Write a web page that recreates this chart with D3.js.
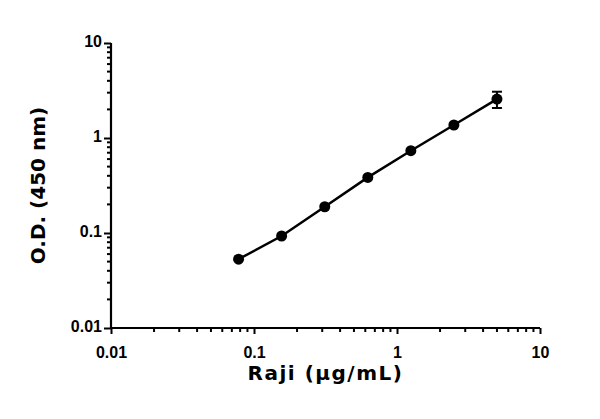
<!DOCTYPE html>
<html>
<head>
<meta charset="utf-8">
<script src="https://cdn.jsdelivr.net/npm/d3@7"></script>
<style>
  body { margin: 0; background: #fff; }
</style>
</head>
<body>
<svg id="chart" width="600" height="419"></svg>
<script>
// concentration of Raji (ug/mL) and measured O.D.
const conc = [0.078, 0.156, 0.3125, 0.625, 1.25, 2.5, 5];
const od = [0.053, 0.093, 0.189, 0.385, 0.735, 1.37, 2.57];
const odErr = [0, 0, 0, 0, 0, 0, 0.5];
const xTicks = [0.01, 0.1, 1, 10];
const yTicks = [0.01, 0.1, 1, 10];

let svg = d3.select("#chart");
let margin = {left: 111, top: 43, right: 60, bottom: 91};
let width = +svg.attr("width") - margin.left - margin.right;
let height = +svg.attr("height") - margin.top - margin.bottom;

let x = d3.scaleLog().domain([0.01, 10]).range([0, width]);
let y = d3.scaleLog().domain([0.01, 10]).range([height, 0]);

let g = svg.append("g").attr("transform", `translate(${margin.left}, ${margin.top})`);

// minor ticks 2..9 in every decade
let minor = [];
for (let d = 0.01; d < 10; d *= 10) {
    for (let k = 2; k <= 9; k++) minor.push(d * k);
}

let fmt = (v) => v >= 1 ? d3.format("d")(v) : String(+v.toPrecision(1));

let xAxis = g.append("g")
    .attr("transform", `translate(0, ${height})`)
    .call(d3.axisBottom(x).tickValues(xTicks).tickFormat(fmt).tickSize(6).tickPadding(13));
xAxis.append("g").selectAll("line")
    .data(minor)
    .enter()
    .append("line")
    .attr("x1", (d) => x(d)).attr("x2", (d) => x(d))
    .attr("y1", 0).attr("y2", 4)
    .attr("stroke", "#000").attr("stroke-width", 2);

let yAxis = g.append("g")
    .call(d3.axisLeft(y).tickValues(yTicks).tickFormat(fmt).tickSize(7).tickPadding(2));
yAxis.append("g").selectAll("line")
    .data(minor)
    .enter()
    .append("line")
    .attr("y1", (d) => y(d)).attr("y2", (d) => y(d))
    .attr("x1", 0).attr("x2", -4)
    .attr("stroke", "#000").attr("stroke-width", 2);

svg.selectAll(".domain").attr("stroke", "#000").attr("stroke-width", 2.2);
svg.selectAll(".tick line").attr("stroke", "#000").attr("stroke-width", 2);
svg.selectAll(".tick text")
    .attr("font-family", "'Liberation Sans', Arial, sans-serif")
    .attr("font-weight", "bold")
    .attr("font-size", 16)
    .attr("fill", "#000");
yAxis.selectAll(".tick text").attr("dy", "0.2em");
xAxis.selectAll(".domain").attr("d", `M0,0H${width}`);
yAxis.selectAll(".domain").attr("d", `M0,0V${height}`);

let pts = conc.map((c, i) => ({x: c, y: od[i], e: odErr[i]}));

g.append("path")
    .datum(pts)
    .attr("fill", "none")
    .attr("stroke", "#000")
    .attr("stroke-width", 2.5)
    .attr("d", d3.line().x((d) => x(d.x)).y((d) => y(d.y)));

// error bars
let err = g.append("g").selectAll("g")
    .data(pts.filter((d) => d.e > 0))
    .enter()
    .append("g")
    .attr("stroke", "#000")
    .attr("stroke-width", 2);
err.append("line")
    .attr("x1", (d) => x(d.x)).attr("x2", (d) => x(d.x))
    .attr("y1", (d) => y(d.y - d.e)).attr("y2", (d) => y(d.y + d.e));
err.append("line")
    .attr("x1", (d) => x(d.x) - 5).attr("x2", (d) => x(d.x) + 5)
    .attr("y1", (d) => y(d.y + d.e)).attr("y2", (d) => y(d.y + d.e));
err.append("line")
    .attr("x1", (d) => x(d.x) - 5).attr("x2", (d) => x(d.x) + 5)
    .attr("y1", (d) => y(d.y - d.e)).attr("y2", (d) => y(d.y - d.e));

g.selectAll("circle")
    .data(pts)
    .enter()
    .append("circle")
    .attr("cx", (d) => x(d.x))
    .attr("cy", (d) => y(d.y))
    .attr("r", 5.5)
    .attr("fill", "#000");

let titleFont = (sel) => sel
    .attr("font-family", "'DejaVu Sans', sans-serif")
    .attr("font-weight", "bold")
    .attr("font-size", 20)
    .attr("fill", "#000")
    .attr("text-anchor", "middle");

g.append("text")
    .call(titleFont)
    .attr("letter-spacing", 1.5)
    .attr("transform", `translate(${width / 2}, ${height + 52})`)
    .text("Raji (\u03bcg/mL)");

g.append("text")
    .call(titleFont)
    .attr("transform", `translate(-66, ${height / 2}) rotate(270)`)
    .text("O.D. (450 nm)");
</script>
</body>
</html>
